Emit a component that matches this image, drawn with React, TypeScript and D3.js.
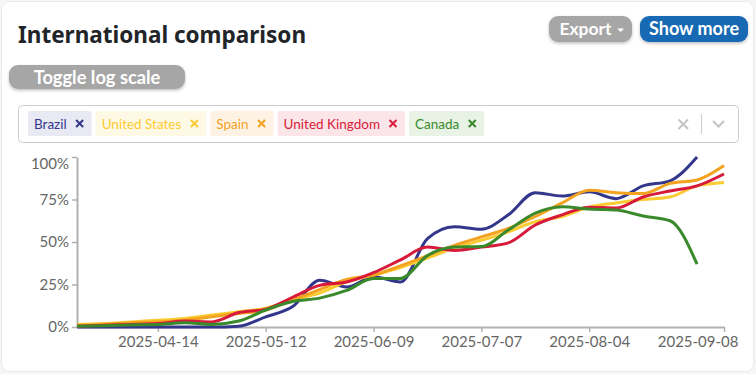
import React, { useRef, useEffect } from 'react';
import * as d3 from 'd3';

// weekly points, Monday dates
const dates = [
  '2025-03-24', '2025-03-31', '2025-04-07', '2025-04-14', '2025-04-21', '2025-04-28',
  '2025-05-05', '2025-05-12', '2025-05-19', '2025-05-26', '2025-06-02', '2025-06-09',
  '2025-06-16', '2025-06-23', '2025-06-30', '2025-07-07', '2025-07-14', '2025-07-21',
  '2025-07-28', '2025-08-04', '2025-08-11', '2025-08-18', '2025-08-25', '2025-09-01',
  '2025-09-08'
];
const tickDates = ['2025-04-14', '2025-05-12', '2025-06-09', '2025-07-07', '2025-08-04', '2025-09-08'];
const yTicks = [0, 25, 50, 75, 100];

const countries = ['Brazil', 'United States', 'Spain', 'United Kingdom', 'Canada'];
const brazil = [0, 0, 0, 0, 0, 0, 0.5, 6, 12, 27.5, 23.5, 29.5, 26.5, 52, 59, 57.5, 66, 79, 77, 79.5, 75.5, 83, 86, 100];
const unitedStates = [1.5, 2, 3, 4, 5, 7, 9, 11, 16, 20, 26.5, 30.5, 35, 40.5, 46.5, 51, 56, 62, 65, 70.5, 73, 75, 76.5, 83, 85];
const spain = [1, 1.5, 2.5, 3, 4, 6, 8, 10, 16, 22, 28, 30.5, 36, 42, 48, 53, 58, 65, 73, 80.5, 79, 78.5, 84.5, 86.5, 95];
const unitedKingdom = [0.5, 1, 1.5, 2, 3.5, 3, 8.5, 10.5, 17.5, 24.5, 26.5, 32, 39.5, 47, 45, 47, 49.5, 60, 66, 70.5, 70, 76.5, 80, 83, 90];
const canada = [0.5, 0.8, 1.2, 1.5, 2.5, 1.5, 3.5, 10, 15, 17, 21.5, 28.5, 28.5, 42, 47, 47.3, 57, 67, 70.8, 69.4, 68.8, 65.3, 62.5, 37];

const seriesValues = [brazil, unitedStates, spain, unitedKingdom, canada];
const lineColors = ['#33378c', '#fbcb33', '#f3a31f', '#d71a3a', '#3a8a2c'];
const chipBg = ['#e8e9f2', '#fef9e5', '#fdf2e3', '#fbe5e8', '#e8f2e5'];

const FONT = 'Lato, "Noto Sans", sans-serif';

const App: React.FC = () => {
  const ref = useRef<SVGSVGElement | null>(null);

  useEffect(() => {
    const svg = d3.select(ref.current);
    svg.selectAll('*').remove();
    const width = 756;
    const height = 374;
    svg.attr('width', width).attr('height', height).style('font-family', FONT);

    const defs = svg.append('defs');
    const f = defs.append('filter').attr('id', 'shadow').attr('x', '-20%').attr('y', '-30%').attr('width', '140%').attr('height', '170%');
    f.append('feDropShadow').attr('dx', 0).attr('dy', 1.5).attr('stdDeviation', 1.5).attr('flood-color', '#000').attr('flood-opacity', 0.25);

    svg.append('rect').attr('width', width).attr('height', height).attr('fill', '#f6f6f6');
    svg.append('rect')
      .attr('x', 1.5).attr('y', 1.5).attr('width', 752).attr('height', 370).attr('rx', 8)
      .attr('fill', '#fff').attr('stroke', '#ebebeb');

    // header
    svg.append('text').attr('x', 18).attr('y', 43).text('International comparison')
      .attr('font-size', 22.5).attr('font-weight', 700).attr('fill', '#212529')
      .attr('font-family', '"Noto Sans", "Open Sans", sans-serif');

    const button = (x: number, y: number, w: number, h: number, fill: string, label: string, size: number, caret = false) => {
      const g = svg.append('g');
      g.append('rect').attr('x', x).attr('y', y).attr('width', w).attr('height', h).attr('rx', 9)
        .attr('fill', fill).attr('filter', 'url(#shadow)');
      const t = g.append('text').attr('x', x + w / 2 - (caret ? 5 : 0)).attr('y', y + h / 2 + size * 0.36)
        .attr('text-anchor', 'middle').attr('font-size', size).attr('font-weight', 700).attr('fill', '#fff').text(label);
      if (caret) {
        const tw = (t.node() as SVGTextElement).getComputedTextLength();
        const cx = x + w / 2 - 5 + tw / 2 + 9;
        const cy = y + h / 2 + 1;
        g.append('path').attr('d', `M${cx - 3.5},${cy - 1.5}L${cx + 3.5},${cy - 1.5}L${cx},${cy + 2}Z`).attr('fill', '#fff');
      }
    };
    button(549, 16, 83, 26, '#a6a6a6', 'Export', 17.5, true);
    button(640, 16, 108, 26, '#1769b2', 'Show more', 18);
    button(9, 65, 176, 24, '#a6a6a6', 'Toggle log scale', 18.3);

    // multiselect box
    svg.append('rect').attr('x', 18.5).attr('y', 105.5).attr('width', 720).attr('height', 37).attr('rx', 4)
      .attr('fill', '#fff').attr('stroke', '#cccccc');
    let cx = 28;
    countries.forEach((name, i) => {
      const g = svg.append('g');
      const bg = g.append('rect').attr('x', cx).attr('y', 111).attr('height', 25).attr('rx', 2).attr('fill', chipBg[i]);
      const t = g.append('text').attr('x', cx + 6).attr('y', 128.5).attr('font-size', 13.5).attr('fill', lineColors[i]).text(name);
      const tw = (t.node() as SVGTextElement).getComputedTextLength();
      const w = tw + 31;
      bg.attr('width', w);
      const xx = cx + w - 12;
      g.append('path').attr('d', `M${xx - 3.5},${120}L${xx + 3.5},${127}M${xx + 3.5},${120}L${xx - 3.5},${127}`)
        .attr('stroke', lineColors[i]).attr('stroke-width', 2);
      cx += w + 4;
    });
    svg.append('path').attr('d', 'M678.5,119.5L688,129M688,119.5L678.5,129').attr('stroke', '#c4c4c4').attr('stroke-width', 2);
    svg.append('line').attr('x1', 701.5).attr('x2', 701.5).attr('y1', 114).attr('y2', 134).attr('stroke', '#cccccc');
    svg.append('path').attr('d', 'M713,121L718.5,126.5L724,121').attr('fill', 'none').attr('stroke', '#c4c4c4').attr('stroke-width', 2);

    // chart
    const parse = d3.timeParse('%Y-%m-%d');
    const x = d3.scaleTime().domain([parse(dates[0])!, parse(dates[dates.length - 1])!]).range([77, 724]);
    const y = d3.scaleLinear().domain([0, 100]).range([327, 157]);

    const xAxis = d3.axisBottom(x)
      .tickValues(tickDates.map((d) => parse(d)!))
      .tickFormat((d) => d3.timeFormat('%Y-%m-%d')(d as Date))
      .tickSize(5).tickSizeOuter(0).tickPadding(4);
    const gx = svg.append('g').attr('transform', 'translate(0,327)').call(xAxis);
    gx.select('.domain').attr('stroke', '#b0b0b0').attr('stroke-width', 2);
    gx.selectAll('.tick line').attr('stroke', '#b0b0b0').attr('stroke-width', 1.5);
    gx.selectAll('.tick text').attr('fill', '#666').attr('font-size', 15).attr('font-family', FONT);
    // keep last label inside the card
    gx.selectAll<SVGTextElement, Date>('.tick text')
      .filter((_, i, n) => i === n.length - 1)
      .attr('text-anchor', 'end').attr('x', 14);

    const yAxis = d3.axisLeft(y).tickValues(yTicks).tickFormat((d) => `${d}%`).tickSize(5).tickSizeOuter(0).tickPadding(3);
    const gy = svg.append('g').attr('transform', 'translate(77,0)').call(yAxis);
    gy.select('.domain').attr('stroke', '#b0b0b0').attr('stroke-width', 2);
    gy.selectAll('.tick line').attr('stroke', '#b0b0b0').attr('stroke-width', 1.5);
    gy.selectAll('.tick text').attr('fill', '#666').attr('font-size', 15).attr('font-family', FONT);
    gy.selectAll<SVGTextElement, number>('.tick text')
      .filter((d) => d === 100)
      .attr('y', 7);

    const line = d3.line<number>()
      .x((_, i) => x(parse(dates[i])!))
      .y((d) => y(d))
      .curve(d3.curveMonotoneX);

    seriesValues.forEach((vals, i) => {
      svg.append('path')
        .datum(vals)
        .attr('fill', 'none')
        .attr('stroke', lineColors[i])
        .attr('stroke-width', 3)
        .attr('stroke-linejoin', 'round')
        .attr('d', line as any);
    });
  }, []);

  return <svg ref={ref} style={{ position: 'absolute', left: 0, top: 0 }} />;
};

export default App;
